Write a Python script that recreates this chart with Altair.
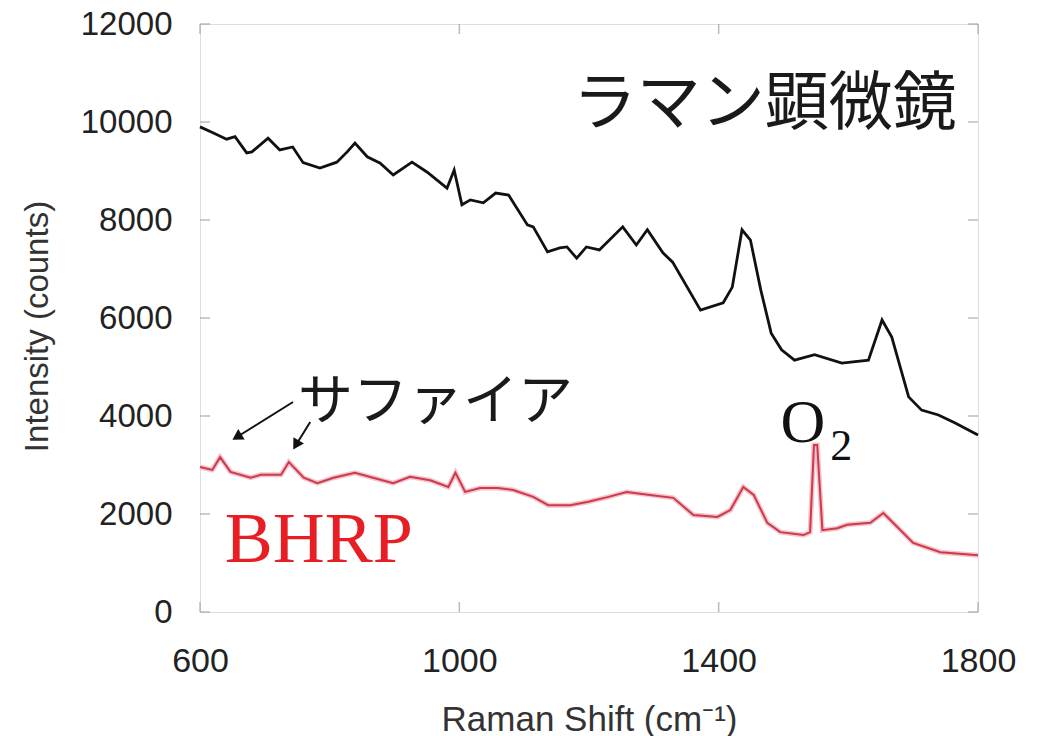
import altair as alt
import pandas as pd

# Raman spectra (Raman shift in cm^-1, intensity in counts)
microscope_shift = [600, 620, 641, 654, 672, 680, 705, 723, 743, 759, 785, 811, 827, 839,
                    858, 878, 898, 927, 950, 981, 992, 1004, 1017, 1037, 1056, 1076, 1105,
                    1114, 1136, 1155, 1166, 1181, 1196, 1216, 1252, 1273, 1290, 1314, 1329,
                    1372, 1407, 1421, 1436, 1449, 1465, 1481, 1497, 1517, 1548, 1590, 1631,
                    1652, 1667, 1693, 1713, 1739, 1764, 1800]
microscope_counts = [9900, 9780, 9650, 9700, 9370, 9390, 9670, 9430, 9490, 9170, 9060, 9180,
                     9390, 9570, 9290, 9160, 8920, 9180, 8980, 8650, 9020, 8310, 8410, 8350,
                     8550, 8510, 7900, 7860, 7350, 7430, 7450, 7220, 7450, 7390, 7860, 7490,
                     7800, 7330, 7140, 6160, 6310, 6630, 7800, 7590, 6570, 5690, 5350, 5140,
                     5250, 5080, 5140, 5960, 5610, 4390, 4120, 4020, 3860, 3610]

bhrp_shift = [600, 619, 631, 647, 678, 694, 725, 737, 760, 781, 806, 839, 867, 898, 924,
              955, 983, 994, 1009, 1032, 1059, 1083, 1114, 1137, 1171, 1199, 1230, 1258,
              1294, 1330, 1361, 1398, 1418, 1438, 1454, 1475, 1495, 1531, 1541, 1547, 1552,
              1560, 1583, 1598, 1634, 1654, 1669, 1700, 1742, 1800]
bhrp_counts = [2960, 2900, 3160, 2860, 2740, 2800, 2800, 3060, 2740, 2630, 2740, 2840, 2740,
               2630, 2760, 2690, 2550, 2840, 2450, 2530, 2530, 2490, 2350, 2180, 2180, 2250,
               2350, 2450, 2390, 2330, 1980, 1940, 2080, 2550, 2390, 1820, 1630, 1570, 1630,
               3410, 3410, 1670, 1710, 1780, 1820, 2020, 1820, 1410, 1220, 1160]

x_ticks = [600, 1000, 1400, 1800]
y_ticks = [0, 2000, 4000, 6000, 8000, 10000, 12000]

# annotation arrows pointing at the sapphire bands
arrow_x = [743.5, 770]
arrow_y = [4286, 3878]
arrow_x2 = [657, 748]
arrow_y2 = [3571, 3408]
arrow_angle = [238, 211]

black_df = pd.DataFrame({"x": microscope_shift, "y": microscope_counts})
red_df = pd.DataFrame({"x": bhrp_shift, "y": bhrp_counts})

xscale = alt.Scale(domain=[600, 1800], nice=False, zero=False)
yscale = alt.Scale(domain=[0, 12000], nice=False, zero=False)
xaxis = alt.Axis(values=x_ticks, format="d", domain=False, ticks=False, grid=False,
                 labelFlush=False, labelOverlap=False,
                 labelFontSize=34, labelFont="Liberation Sans", labelColor="#222222",
                 labelPadding=32, titleFont="Liberation Sans", titleFontSize=35,
                 titleFontWeight="normal", titleColor="#333333",
                 titleBaseline="alphabetic", titleY=118)
yaxis = alt.Axis(values=y_ticks, format="d", domain=False, ticks=False, grid=False,
                 labelFlush=False, labelOverlap=False,
                 labelFontSize=33, labelFont="Liberation Sans", labelColor="#222222",
                 labelPadding=28, titleFont="Liberation Sans", titleFontSize=33,
                 titleFontWeight="normal", titleColor="#333333",
                 titleBaseline="alphabetic", titleX=-153, titleY=302)

X_TITLE = "Raman Shift (cm⁻¹)"
Y_TITLE = "Intensity (counts)"


def xe(field="x"):
    return alt.X(f"{field}:Q", scale=xscale, axis=xaxis, title=X_TITLE)


def ye(field="y"):
    return alt.Y(f"{field}:Q", scale=yscale, axis=yaxis, title=Y_TITLE)


red_halo = alt.Chart(red_df).mark_line(color="#f4c3cb", strokeWidth=5).encode(
    x=xe(), y=ye(), order="x:Q")
red_line = alt.Chart(red_df).mark_line(color="#cc3a4c", strokeWidth=2).encode(
    x=xe(), y=ye(), order="x:Q")
black_line = alt.Chart(black_df).mark_line(color="#111111", strokeWidth=2.8).encode(
    x=xe(), y=ye(), order="x:Q")

ytick_df = pd.DataFrame({"y": y_ticks})
xtick_df = pd.DataFrame({"x": x_ticks})
tick_style = dict(color="#a0a0a0", thickness=1.5, size=10)
ticks_left = alt.Chart(ytick_df).mark_tick(orient="horizontal", **tick_style).encode(
    y=ye(), x=alt.value(5))
ticks_right = alt.Chart(ytick_df).mark_tick(orient="horizontal", **tick_style).encode(
    y=ye(), x=alt.value(773))
ticks_bottom = alt.Chart(xtick_df).mark_tick(orient="vertical", **tick_style).encode(
    x=xe(), y=alt.value(583))
ticks_top = alt.Chart(xtick_df).mark_tick(orient="vertical", **tick_style).encode(
    x=xe(), y=alt.value(5))

arrow_df = pd.DataFrame({"x": arrow_x, "y": arrow_y, "x2": arrow_x2, "y2": arrow_y2,
                         "angle": arrow_angle})
arrow_shafts = alt.Chart(arrow_df).mark_rule(color="#111111", strokeWidth=2).encode(
    x=xe(), y=ye(), x2="x2:Q", y2="y2:Q")
arrow_heads = alt.Chart(arrow_df).mark_point(
    shape="triangle-up", filled=True, color="#111111", size=150, opacity=1).encode(
    x=xe("x2"), y=ye("y2"), angle=alt.Angle("angle:Q", scale=None))


def label(text, x, y, size, font, color, align="left"):
    df = pd.DataFrame({"x": [x], "y": [y], "t": [text]})
    return alt.Chart(df).mark_text(
        fontSize=size, font=font, color=color, align=align, baseline="alphabetic").encode(
        x=xe(), y=ye(), text="t:N")


cjk = "Noto Sans CJK JP"
serif = "Liberation Serif"
title_jp = label("ラマン顕微鏡", 1471, 9960, 64, cjk, "#1a1a1a", align="center")
sapphire = label("サファイア", 751, 3940, 55, cjk, "#1a1a1a")
bhrp = label("BHRP", 638, 1020, 72, serif, "#e81e25")
o_text = label("O", 1530, 3469, 62, serif, "#111111", align="center")
o_sub = label("2", 1572, 3102, 44, serif, "#111111")

chart = alt.layer(
    red_halo, red_line, black_line,
    ticks_left, ticks_right, ticks_bottom, ticks_top,
    arrow_shafts, arrow_heads,
    title_jp, sapphire, bhrp, o_text, o_sub,
).properties(
    width=778, height=588,
    autosize=alt.AutoSizeParams(type="none"),
    padding={"left": 200, "top": 24, "right": 60, "bottom": 124},
).configure_view(
    stroke="#5a5a5a", strokeWidth=3
).configure(background="white")

chart.save("out.html", embed_options={"renderer": "svg", "actions": False})
